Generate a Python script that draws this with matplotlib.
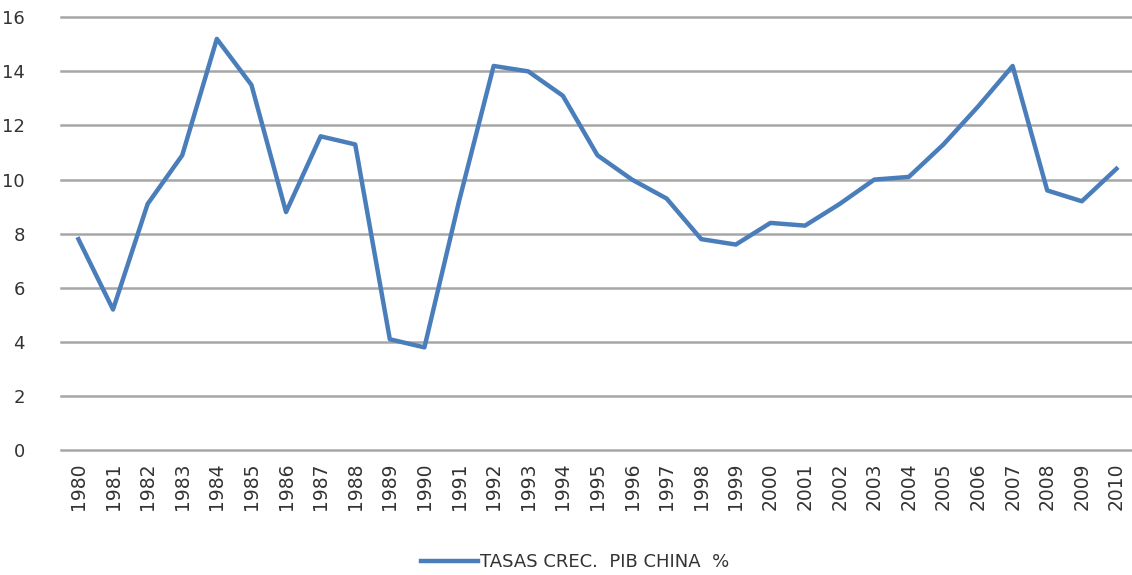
import matplotlib.pyplot as plt

years = list(range(1980, 2011))
growth = [7.8, 5.2, 9.1, 10.9, 15.2, 13.5, 8.8, 11.6, 11.3, 4.1,
          3.8, 9.2, 14.2, 14.0, 13.1, 10.9, 10.0, 9.3, 7.8, 7.6,
          8.4, 8.3, 9.1, 10.0, 10.1, 11.3, 12.7, 14.2, 9.6, 9.2, 10.4]
yticks = [0, 2, 4, 6, 8, 10, 12, 14, 16]
series_label = 'TASAS CREC.  PIB CHINA  %'

fig = plt.figure(figsize=(11.32, 5.75), dpi=100)
ax = fig.add_axes([0.054, 0.217, 0.946, 0.753])

xx = range(len(years))
ax.plot(xx, growth, color='#4a7ebb', linewidth=3.2, label=series_label)

ax.set_xlim(-0.5, len(years) - 0.55)
ax.set_ylim(0, 16)
ax.set_yticks(yticks)
ax.set_xticks(list(xx))
ax.set_xticklabels([str(y) for y in years], rotation=90, fontsize=13.5, color='#333333')
ax.tick_params(axis='y', labelsize=13, colors='#333333', length=0, pad=26)
ax.tick_params(axis='x', length=0, pad=9)
ax.grid(axis='y', color='#a6a6a6', linewidth=1.8)
for gl in ax.get_ygridlines():
    gl.set_clip_on(False)
ax.set_axisbelow(True)
for s in ax.spines.values():
    s.set_visible(False)

fig.legend(loc='lower center', bbox_to_anchor=(0.508, -0.022), frameon=False,
           fontsize=13, handlelength=3.2, handletextpad=0.1, labelcolor='#333333')

plt.savefig('out.png', dpi=100)
plt.close()
